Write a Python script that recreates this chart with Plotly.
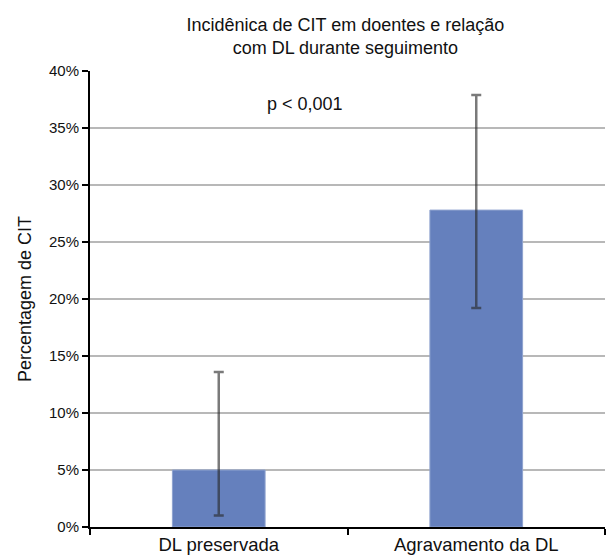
import plotly.graph_objects as go

# Incidence of CIT (%) by group, with asymmetric confidence limits
categories = ["DL preservada", "Agravamento da DL"]
incidence = [5.0, 27.8]
upper_limit = [13.6, 37.9]
lower_limit = [1.0, 19.2]
y_ticks = [0, 5, 10, 15, 20, 25, 30, 35, 40]

err_plus = [u - v for u, v in zip(upper_limit, incidence)]
err_minus = [v - l for v, l in zip(incidence, lower_limit)]

FONT = "Liberation Sans, Arial, Helvetica, sans-serif"

fig = go.Figure(
    go.Bar(
        x=categories,
        y=incidence,
        width=0.36,
        marker=dict(color="#6580bd", line=dict(color="#8fa3cf", width=1)),
        error_y=dict(
            type="data",
            symmetric=False,
            array=err_plus,
            arrayminus=err_minus,
            color="rgba(40,40,40,0.62)",
            thickness=2.5,
            width=5,
        ),
        showlegend=False,
    )
)

fig.update_layout(
    width=606,
    height=555,
    margin=dict(l=90, r=1, t=71, b=28),
    paper_bgcolor="white",
    plot_bgcolor="white",
    font=dict(family=FONT, color="#111111"),
    title=dict(
        text="Incidênica de CIT em doentes e relação<br>com DL durante seguimento",
        x=0.57,
        xanchor="center",
        y=1 - 31 / 555,
        yanchor="middle",
        font=dict(size=18, family=FONT, color="#111111"),
    ),
    annotations=[
        dict(
            text="p < 0,001",
            x=0.4175,
            xref="paper",
            y=37.1,
            yref="y",
            showarrow=False,
            font=dict(size=18, family=FONT, color="#111111"),
        )
    ],
)

fig.update_xaxes(
    showline=True,
    linecolor="black",
    linewidth=2,
    ticks="outside",
    tickson="boundaries",
    ticklen=6,
    tickwidth=2,
    tickcolor="black",
    tickfont=dict(size=18.5, family=FONT, color="#111111"),
    showgrid=False,
)

fig.update_yaxes(
    range=[0, 40],
    tickvals=y_ticks,
    ticktext=[f"{t}%" for t in y_ticks],
    showline=True,
    linecolor="black",
    linewidth=2,
    ticks="outside",
    ticklen=6,
    tickwidth=2,
    tickcolor="black",
    tickfont=dict(size=15, family=FONT, color="#111111"),
    showgrid=True,
    gridcolor="#b8b8b8",
    gridwidth=1.5,
    zeroline=False,
    title=dict(
        text="Percentagem de CIT",
        standoff=13,
        font=dict(size=18, family=FONT, color="#111111"),
    ),
)

fig.write_html("out.html")
